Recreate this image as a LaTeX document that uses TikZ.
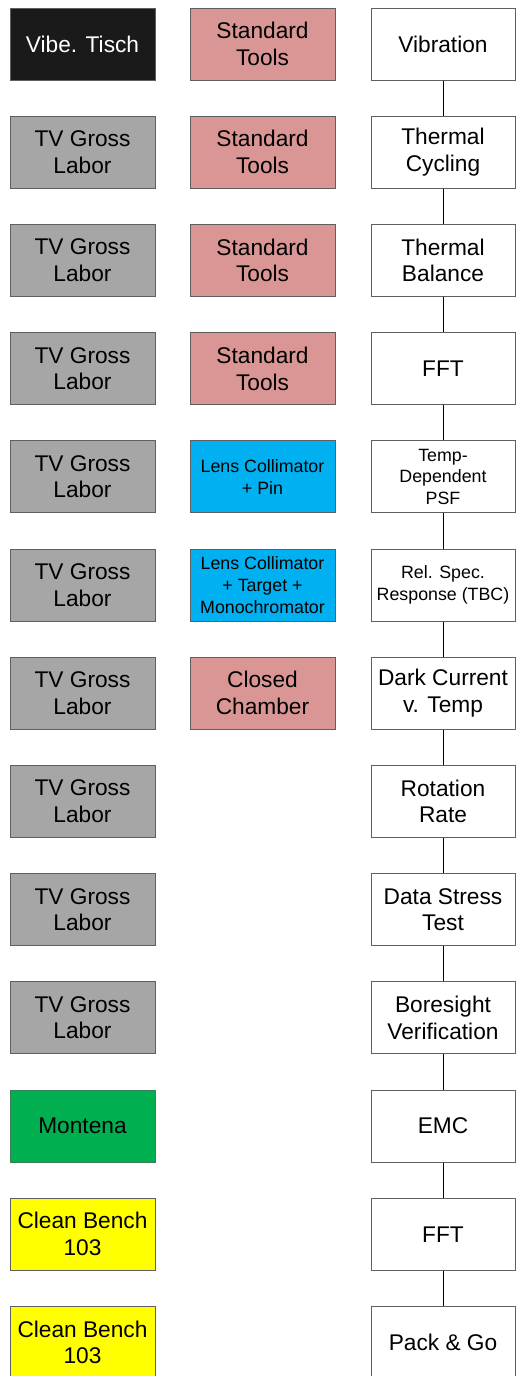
\documentclass[tikz,border=0pt]{standalone}
\usepackage{fontspec}
\setmainfont{Liberation Sans}
\definecolor{bordc}{HTML}{5F5F5F}
\definecolor{blackf}{HTML}{1A1A1A}
\definecolor{grayf}{HTML}{A6A6A6}
\definecolor{pinkf}{HTML}{DA9694}
\definecolor{bluef}{HTML}{00B0F0}
\definecolor{greenf}{HTML}{00B050}
\definecolor{yellowf}{HTML}{FFFF00}
\tikzset{
  box/.style={draw=bordc, line width=1pt, rectangle, minimum width=145pt, minimum height=72pt, inner sep=0pt, align=center, text=black, font=\fontsize{22.7}{26.7}\selectfont},
  small/.style={font=\fontsize{17.8}{21.7}\selectfont},
  blackbox/.style={box, fill=blackf, text=white},
  graybox/.style={box, fill=grayf},
  pinkbox/.style={box, fill=pinkf},
  bluebox/.style={box, fill=bluef, small},
  greenbox/.style={box, fill=greenf, draw=bordc!60!greenf},
  yellowbox/.style={box, fill=yellowf},
  whitebox/.style={box, fill=white, minimum width=144pt},
  conn/.style={draw=black, line width=1pt}
}
\begin{document}
\begin{tikzpicture}[x=1pt,y=-1pt]
\useasboundingbox (0,0) rectangle (515,1376);
\def\rp{108.2}
% left column
\node[blackbox] (l1) at (82.5,44) {Vibe. Tisch};
\foreach \i in {2,...,10}{
  \node[graybox] (l\i) at (82.5,{44+\rp*(\i-1)}) {TV Gross\\Labor};
}
\node[greenbox] (l11) at (82.5,{44+\rp*10}) {Montena};
\node[yellowbox] (l12) at (82.5,{44+\rp*11}) {Clean Bench\\103};
\node[yellowbox] (l13) at (82.5,{44+\rp*12}) {Clean Bench\\103};
% middle column
\foreach \i in {1,...,4}{
  \node[pinkbox] (m\i) at (262.5,{44+\rp*(\i-1)}) {Standard\\Tools};
}
\node[bluebox] (m5) at (262.5,{44+\rp*4}) {Lens Collimator\\+ Pin};
\node[bluebox] (m6) at (262.5,{44+\rp*5}) {Lens Collimator\\+ Target +\\Monochromator};
\node[pinkbox] (m7) at (262.5,{44+\rp*6}) {Closed\\Chamber};
% right column
\node[whitebox] (r1) at (443,{44+\rp*0}) {Vibration};
\node[whitebox] (r2) at (443,{44+\rp*1}) {Thermal\\Cycling};
\node[whitebox] (r3) at (443,{44+\rp*2}) {Thermal\\Balance};
\node[whitebox] (r4) at (443,{44+\rp*3}) {FFT};
\node[whitebox, small] (r5) at (443,{44+\rp*4}) {Temp-\\Dependent\\PSF};
\node[whitebox, small] (r6) at (443,{44+\rp*5}) {Rel. Spec.\\Response (TBC)};
\node[whitebox] (r7) at (443,{44+\rp*6}) {Dark Current\\v. Temp};
\node[whitebox] (r8) at (443,{44+\rp*7}) {Rotation\\Rate};
\node[whitebox] (r9) at (443,{44+\rp*8}) {Data Stress\\Test};
\node[whitebox] (r10) at (443,{44+\rp*9}) {Boresight\\Verification};
\node[whitebox] (r11) at (443,{44+\rp*10}) {EMC};
\node[whitebox] (r12) at (443,{44+\rp*11}) {FFT};
\node[whitebox] (r13) at (443,{44+\rp*12}) {Pack \& Go};
% connectors
\foreach \a/\b in {1/2,2/3,3/4,4/5,5/6,6/7,7/8,8/9,9/10,10/11,11/12,12/13}{
  \draw[conn] (r\a.south) -- (r\b.north);
}
\end{tikzpicture}
\end{document}
